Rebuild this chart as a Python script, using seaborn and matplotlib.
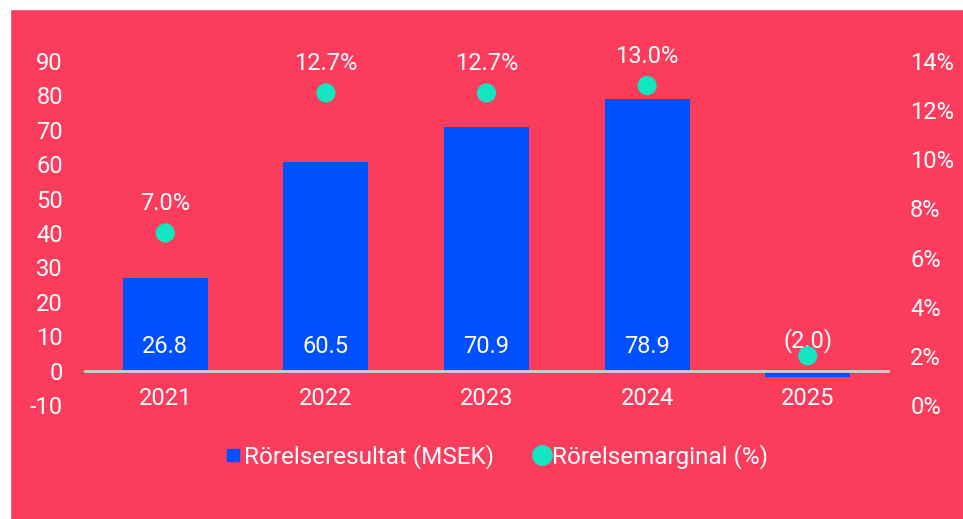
import matplotlib
matplotlib.use("Agg")
import matplotlib.pyplot as plt
import seaborn as sns
import pandas as pd
import numpy as np
from matplotlib.lines import Line2D
from matplotlib.patches import Rectangle

# ---- data ----
years = ["2021", "2022", "2023", "2024", "2025"]
result = [26.8, 60.5, 70.9, 78.9, -2.0]
margin = [7.0, 12.7, 12.7, 13.0, 2.0]
result_labels = ["26.8", "60.5", "70.9", "78.9", "(2.0)"]
margin_labels = ["7.0%", "12.7%", "12.7%", "13.0%", ""]
left_ticks = [-10, 0, 10, 20, 30, 40, 50, 60, 70, 80, 90]
right_ticks = [0, 2, 4, 6, 8, 10, 12, 14]
series_names = ["Rörelseresultat (MSEK)", "Rörelsemarginal (%)"]

RED = "#FC3C5C"
BLUE = "#0050FF"
MINT = "#12E6C0"
LINE = "#D0D0D0"
FS = 17

sns.set_theme(style="white")
plt.rcParams['font.family'] = ['Roboto', 'DejaVu Sans']

df = pd.DataFrame({"year": years, "result": result, "margin": margin})

fig = plt.figure(figsize=(9.63, 5.19), dpi=100, facecolor=RED)
# white strips (left and top)
fig.patches.append(Rectangle((0, 0), 10 / 963, 1, transform=fig.transFigure,
                             color="white", zorder=-5))
fig.patches.append(Rectangle((0, 1 - 9 / 519), 1, 9 / 519, transform=fig.transFigure,
                             color="white", zorder=-5))

ax = fig.add_axes([85 / 963, 1 - 405 / 519, 803 / 963, 344 / 519])
ax.set_facecolor("none")
sns.barplot(data=df, x="year", y="result", color=BLUE, saturation=1,
            width=0.53, ax=ax, zorder=2, linewidth=0, edgecolor="none")
ax.set_xlim(-0.5, len(years) - 0.5)
ax.set_ylim(-10, 90)
ax.set_yticks(left_ticks)
ax.set_yticklabels([str(t) for t in left_ticks])
ax.set_xlabel("")
ax.set_ylabel("")
for s in ["top", "right", "left"]:
    ax.spines[s].set_visible(False)
ax.spines["bottom"].set_position(("data", 0))
ax.spines["bottom"].set_color(LINE)
ax.spines["bottom"].set_linewidth(2)
ax.spines["bottom"].set_zorder(3)
ax.tick_params(axis="x", length=0, pad=12, labelsize=FS, labelcolor="white")
ax.tick_params(axis="y", length=0, pad=16, labelsize=FS, labelcolor="white")

for i, (v, lab) in enumerate(zip(result, result_labels)):
    off = 24 if v >= 0 else 30
    ax.annotate(lab, (i, 0), xytext=(0, off), textcoords="offset pixels",
                ha="center", va="center", color="white", fontsize=FS, zorder=5)

ax2 = ax.twinx()
ax2.set_facecolor("none")
xpos = np.arange(len(years))
sns.scatterplot(x=xpos, y=margin, ax=ax2, color=MINT, s=190, edgecolor="none",
                zorder=4, legend=False)
ax2.set_ylim(0, 14)
ax2.set_yticks(right_ticks)
ax2.set_yticklabels([f"{t}%" for t in right_ticks])
ax2.set_ylabel("")
for s in ["top", "right", "left", "bottom"]:
    ax2.spines[s].set_visible(False)
ax2.tick_params(axis="y", length=0, pad=16, labelsize=FS, labelcolor="white")
for i, (m, lab) in enumerate(zip(margin, margin_labels)):
    if lab:
        ax2.annotate(lab, (i, m), xytext=(0, 29), textcoords="offset pixels",
                     ha="center", va="center", color="white", fontsize=FS)

handles = [
    Line2D([], [], marker="s", linestyle="none", color=BLUE, markersize=9),
    Line2D([], [], marker="o", linestyle="none", color=MINT, markersize=14),
]
fig.legend(handles, series_names, loc="center", bbox_to_anchor=(496 / 963, 1 - 457 / 519),
           ncol=2, frameon=False, fontsize=17.5, labelcolor="white",
           handletextpad=0.05, columnspacing=1.55, handlelength=0.8)

fig.savefig("out.png", dpi=100, facecolor=RED)
